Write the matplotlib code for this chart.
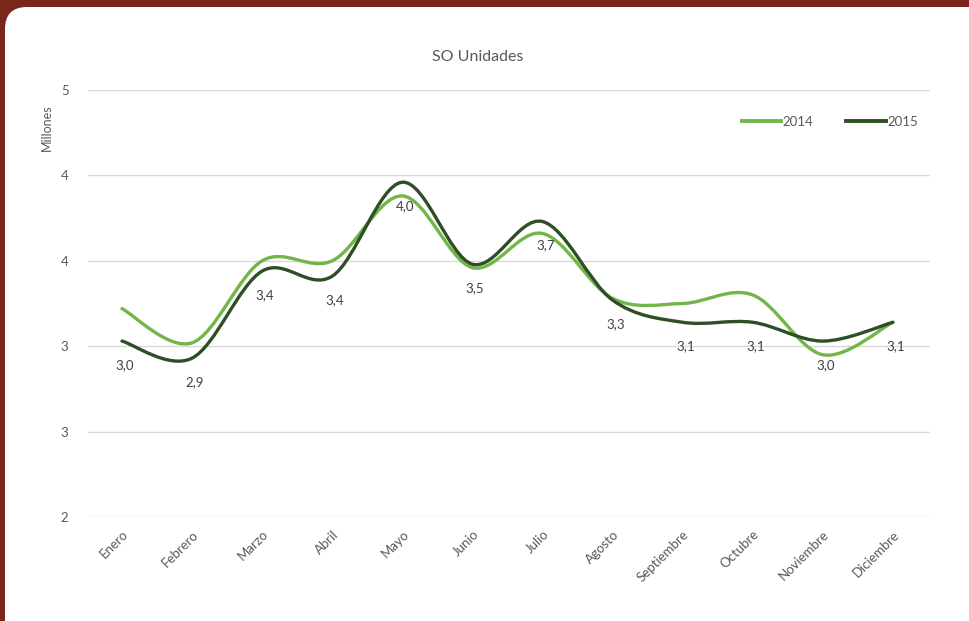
import numpy as np
import matplotlib
matplotlib.use("Agg")
import matplotlib.pyplot as plt
from matplotlib.path import Path
from matplotlib.patches import PathPatch, FancyBboxPatch

plt.rcParams['font.family'] = ['Lato', 'DejaVu Sans']

meses = ["Enero", "Febrero", "Marzo", "Abril", "Mayo", "Junio", "Julio",
         "Agosto", "Septiembre", "Octubre", "Noviembre", "Diciembre"]
ventas_2014 = [3.22, 3.02, 3.50, 3.50, 3.88, 3.46, 3.66, 3.28, 3.25, 3.30, 2.95, 3.14]
ventas_2015 = [3.03, 2.93, 3.44, 3.41, 3.96, 3.48, 3.73, 3.27, 3.14, 3.14, 3.03, 3.14]
y_ticks = [2.0, 2.5, 3.0, 3.5, 4.0, 4.5]
y_tick_labels = ["2", "3", "3", "4", "4", "5"]

color_2014 = "#72B548"
color_2015 = "#2E4F26"
texto = "#595959"


def curva_suave(x, y):
    # curva tipo Catmull-Rom con segmentos Bezier cúbicos
    pts = np.column_stack([x, y]).astype(float)
    n = len(pts)
    verts = [pts[0]]
    codes = [Path.MOVETO]
    for i in range(n - 1):
        p0 = pts[i - 1] if i > 0 else pts[i]
        p1 = pts[i]
        p2 = pts[i + 1]
        p3 = pts[i + 2] if i + 2 < n else pts[i + 1]
        c1 = p1 + (p2 - p0) / 6.0
        c2 = p2 - (p3 - p1) / 6.0
        verts += [c1, c2, p2]
        codes += [Path.CURVE4] * 3
    return Path(verts, codes)


fig = plt.figure(figsize=(9.69, 6.21), dpi=100)
fig.patch.set_facecolor("#7B261B")

# panel blanco redondeado
bg = fig.add_axes([0, 0, 1, 1])
bg.set_xlim(0, 969)
bg.set_ylim(621, 0)
bg.axis("off")
bg.add_patch(FancyBboxPatch((5, 7), 1000, 700, boxstyle="round,pad=0,rounding_size=22",
                            facecolor="white", edgecolor="none"))

ax = fig.add_axes([88 / 969, 1 - 517 / 621, 842 / 969, 427 / 621])
ax.patch.set_alpha(0)
x = np.arange(len(meses))

for vals, col, lab in [(ventas_2014, color_2014, "2014"), (ventas_2015, color_2015, "2015")]:
    ax.add_patch(PathPatch(curva_suave(x, vals), facecolor="none", edgecolor=col,
                           lw=2.4, capstyle="round", zorder=3))
    ax.plot([], [], color=col, lw=2.8, label=lab)

for xi, v in zip(x, ventas_2015):
    ax.annotate(f"{v:.1f}".replace(".", ","), (xi, v), xytext=(2, -17),
                textcoords="offset points", ha="center", va="center",
                fontsize=9.5, color="#404040", zorder=4)

ax.set_xlim(-0.485, 11.53)
ax.set_ylim(2.0, 4.5)
ax.set_yticks(y_ticks)
ax.set_yticklabels(y_tick_labels)
ax.set_xticks(x)
ax.set_xticklabels(meses, rotation=45, ha="right", rotation_mode="anchor")
ax.tick_params(axis="both", length=0, labelsize=9.5, labelcolor=texto)
ax.tick_params(axis="y", pad=14)
ax.tick_params(axis="x", pad=8)
ax.grid(axis="y", color="#D9D9D9", lw=1)
ax.set_axisbelow(True)
for s in ax.spines.values():
    s.set_visible(False)

fig.text(478 / 969, 1 - 57 / 621, "SO Unidades", ha="center", va="center",
         fontsize=11.5, color=texto)
fig.text(47 / 969, 1 - 128 / 621, "Millones", rotation=90, ha="center", va="center",
         fontsize=9, color=texto)

ax.legend(loc="center right", bbox_to_anchor=(1.0, 0.925), ncol=2, frameon=False,
          fontsize=9.5, labelcolor=texto, handlelength=3.0, handletextpad=0.1,
          columnspacing=2.5)

fig.savefig("out.png", dpi=100, facecolor=fig.get_facecolor())
